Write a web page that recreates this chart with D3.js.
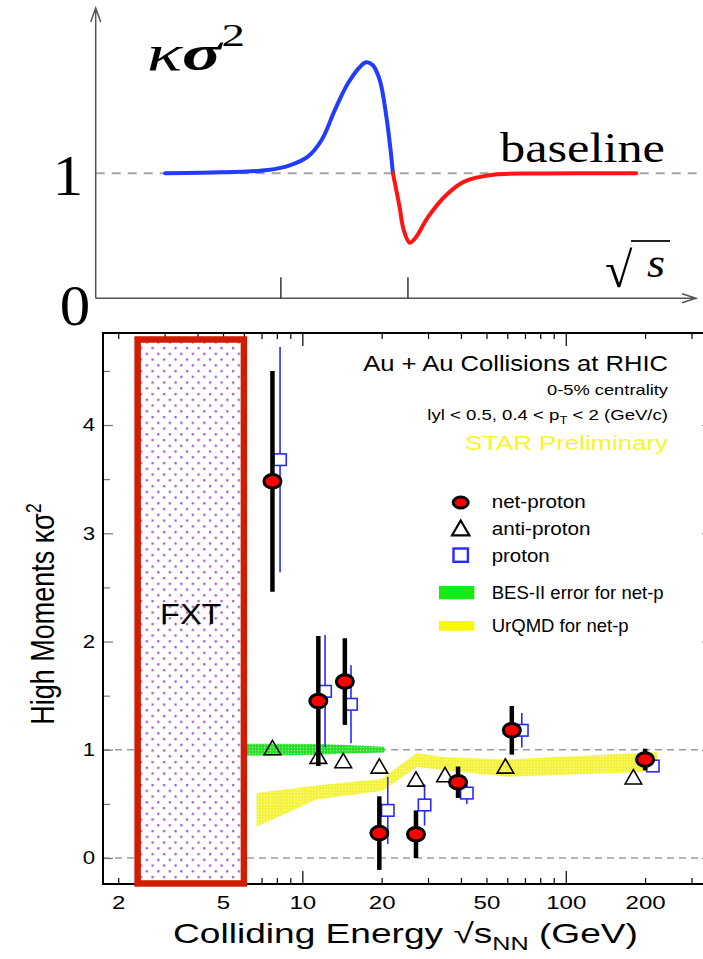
<!DOCTYPE html>
<html><head><meta charset="utf-8">
<script src="https://cdn.jsdelivr.net/npm/d3@7"></script>
<style>body{margin:0;background:#fff}svg{display:block}</style>
</head><body><svg id="c" width="703" height="959"></svg>
<script>
// ---------- data ----------
const energies = [7.7, 11.5, 14.5, 19.6, 27, 39, 62.4, 200];
const netProton = [3.48, 1.45, 1.63, 0.23, 0.22, 0.70, 1.18, 0.91];
const netProtonErr = [1.02, 0.60, 0.40, 0.34, 0.22, 0.145, 0.225, 0.10];
const protonEnergy = [8.23, 12.2, 15.3, 21.1, 29.1, 42.1, 68.1, 214];
const proton = [3.68, 1.54, 1.42, 0.44, 0.49, 0.60, 1.18, 0.85];
const protonErr = [1.04, 0.52, 0.36, 0.31, 0.19, 0.10, 0.16, 0.03];
const antiProtonEnergy = [7.7, 11.5, 14.3, 19.6, 27, 34.8, 59.0, 180.6];
const antiProton = [1.02, 0.94, 0.90, 0.85, 0.73, 0.77, 0.85, 0.75];
const besEnergy = [5.6, 7.7, 11.5, 14.5, 20.5];
const besLow = [0.945, 0.947, 0.955, 0.965, 0.975];
const besHigh = [1.056, 1.055, 1.053, 1.045, 1.028];
const urqmdEnergy = [6.7, 11.3, 20.0, 27.2, 34.8, 59.8, 222];
const urqmdLow = [0.29, 0.54, 0.62, 0.84, 0.81, 0.75, 0.80];
const urqmdHigh = [0.60, 0.67, 0.73, 0.97, 0.93, 0.91, 0.98];
const fxtEnergy = [2.37, 6.0];
const fxtKappa = [-0.235, 4.79];
const xTickValues = [2,3,4,5,6,7,8,9,10,20,30,40,50,60,70,80,90,100,200,300];
const xTickLabels = [2,5,10,20,50,100,200];
const xDecades = [10,100];
const yTickValues = [0,0.5,1,1.5,2,2.5,3,3.5,4,4.5];
const yTickLabels = [0,1,2,3,4];
// schematic sketch (arbitrary units)
const blueU = [11.6,17.4,24.1,28.7,32.5,35.4,37.7,39.9,42.1,44.4,45.1,46.2,47.4,48.5,49.2,49.6];
const blueV = [1.0,1.005,1.012,1.026,1.066,1.133,1.266,1.506,1.72,1.866,1.888,1.866,1.746,1.453,1.186,1.0];
const redU = [49.6,50.7,51.4,52.4,53.3,55.5,58.5,61.5,66.0,73.4,90.2];
const redV = [1.0,0.733,0.546,0.445,0.48,0.653,0.826,0.933,0.986,0.999,1.0];
const sketchTicks = [30.9, 52.1];

// ---------- setup ----------
const svg = d3.select('#c');
const SANS = "'Liberation Sans', Arial, Helvetica, sans-serif";
const SERIF = "'Liberation Serif', 'Times New Roman', serif";

function fit(t, px, py, width, sxx) {
  let s = sxx || 1;
  if (width) s = width / t.node().getComputedTextLength();
  t.attr('transform', `translate(${px},${py}) scale(${s},1)`);
  return t;
}

const defs = svg.append('defs');
const dots = defs.append('pattern').attr('id','dots').attr('patternUnits','userSpaceOnUse')
  .attr('width',11.5).attr('height',11.5);
dots.append('rect').attr('width',11.5).attr('height',11.5).attr('fill','#fff');
dots.append('rect').attr('x',2).attr('y',2).attr('width',2.2).attr('height',2.2).attr('fill','#9a50cc');
dots.append('rect').attr('x',7.75).attr('y',7.75).attr('width',2.2).attr('height',2.2).attr('fill','#9a50cc');

const yel = defs.append('pattern').attr('id','yel').attr('patternUnits','userSpaceOnUse').attr('width',3).attr('height',3);
yel.append('rect').attr('width',3).attr('height',3).attr('fill','#f7f53a');
yel.append('rect').attr('x',0).attr('y',0).attr('width',1).attr('height',1).attr('fill','#fbfbb0');
yel.append('rect').attr('x',1.5).attr('y',1.5).attr('width',1).attr('height',1).attr('fill','#e8e860');
const grn = defs.append('pattern').attr('id','grn').attr('patternUnits','userSpaceOnUse').attr('width',3).attr('height',3);
grn.append('rect').attr('width',3).attr('height',3).attr('fill','#2ee62e');
grn.append('rect').attr('x',0).attr('y',0).attr('width',1).attr('height',1).attr('fill','#a8f5a8');
grn.append('rect').attr('x',1.5).attr('y',1.5).attr('width',1).attr('height',1).attr('fill','#20c020');

// ---------- top sketch ----------
const sx = d3.scaleLinear().domain([0,100]).range([95.7,695]);
const sy = d3.scaleLinear().domain([0,1]).range([298.3,173.3]);
const topG = svg.append('g');
topG.append('line').attr('x1',sx(0)).attr('x2',703).attr('y1',sy(1)).attr('y2',sy(1))
  .attr('stroke','#a5a5a5').attr('stroke-width',2).attr('stroke-dasharray','9,7');
topG.append('path').attr('d',`M${sx(0)},${sy(0)}V8 M${sx(0)-5},22 L${sx(0)},8 L${sx(0)+5},22`)
  .attr('fill','none').attr('stroke','#555').attr('stroke-width',1.5);
topG.append('path').attr('d',`M${sx(0)},${sy(0)}H696 M682,${sy(0)-4.5} L696,${sy(0)} L682,${sy(0)+4.5}`)
  .attr('fill','none').attr('stroke','#555').attr('stroke-width',1.5);
topG.selectAll('.stk').data(sketchTicks).enter().append('line')
  .attr('x1',d=>sx(d)).attr('x2',d=>sx(d)).attr('y1',sy(0)).attr('y2',sy(0)-21)
  .attr('stroke','#333').attr('stroke-width',1.5);
const sline = d3.line().x(d=>sx(d[0])).y(d=>sy(d[1])).curve(d3.curveCatmullRom.alpha(0.5));
topG.append('path').attr('d',sline(blueU.map((u,i)=>[u,blueV[i]])))
  .attr('fill','none').attr('stroke','#1f3cff').attr('stroke-width',4).attr('stroke-linecap','round');
topG.append('path').attr('d',sline(redU.map((u,i)=>[u,redV[i]])))
  .attr('fill','none').attr('stroke','#ff1414').attr('stroke-width',4).attr('stroke-linecap','round');
fit(topG.append('text').attr('font-family',SERIF).attr('font-size',58).attr('text-anchor','middle').text('1'),68,195,null,1.05);
fit(topG.append('text').attr('font-family',SERIF).attr('font-size',58).attr('text-anchor','middle').text('0'),75,325,null,1.05);
fit(topG.append('text').attr('font-family',SERIF).attr('font-size',42).text('baseline'),500,162,165);
{
  const t = topG.append('text').attr('font-family',SERIF).attr('font-size',50);
  t.append('tspan').attr('font-style','italic').text('κ');
  t.append('tspan').attr('font-style','italic').attr('font-weight','bold').text('σ');
  t.append('tspan').attr('font-size',32).attr('dy',-24).text('2');
  fit(t,147,70,98);
}
{
  const t = topG.append('text').attr('font-family',SERIF).attr('font-size',50).text('√');
  fit(t,605,287,null,1.0);
  topG.append('line').attr('x1',631).attr('x2',670).attr('y1',241).attr('y2',241).attr('stroke','#222').attr('stroke-width',2);
  const s = topG.append('text').attr('font-family',SERIF).attr('font-style','italic').attr('font-size',42).text('s');
  fit(s,647,277,null,1.1);
}

// ---------- bottom chart ----------
const L = 103, R = 712, T = 333, B = 884;
const x = d3.scaleLog().domain([1.751, 359]).range([L, R]);
const y = d3.scaleLinear().domain([-0.24, 4.85]).range([B, T]);
const g = svg.append('g');

g.selectAll('.ref').data([0,1]).enter().append('line')
  .attr('x1',L).attr('x2',R).attr('y1',d=>y(d)).attr('y2',d=>y(d))
  .attr('stroke','#9c9c9c').attr('stroke-width',1.4).attr('stroke-dasharray','7,5');

const area = d3.area().x(d=>x(d.e)).y0(d=>y(d.lo)).y1(d=>y(d.hi));
g.append('path').attr('d',area(urqmdEnergy.map((e,i)=>({e,lo:urqmdLow[i],hi:urqmdHigh[i]}))))
  .attr('fill','url(#yel)');
g.append('path').attr('d',area(besEnergy.map((e,i)=>({e,lo:besLow[i],hi:besHigh[i]}))))
  .attr('fill','url(#grn)');

function styleAxis(sel){ sel.select('.domain').remove(); sel.selectAll('line').attr('stroke','#000').attr('stroke-width',1.2); }
const xb = g.append('g').attr('transform',`translate(0,${B})`)
  .call(d3.axisBottom(x).tickValues(xTickValues).tickSizeInner(-6).tickSizeOuter(0).tickPadding(12)
    .tickFormat(d=>xTickLabels.includes(d)?String(d):''));
styleAxis(xb);
xb.selectAll('.tick line').attr('y2',d=>xDecades.includes(d)?-13:-6);
xb.selectAll('text').attr('font-family',SANS).attr('font-size',18.5).attr('fill','#000').attr('transform','scale(1.3,1)');
const xt = g.append('g').attr('transform',`translate(0,${T})`)
  .call(d3.axisTop(x).tickValues(xTickValues).tickSizeInner(-6).tickSizeOuter(0).tickFormat(''));
styleAxis(xt);
xt.selectAll('.tick line').attr('y2',d=>xDecades.includes(d)?13:6);
const yl = g.append('g').attr('transform',`translate(${L},0)`)
  .call(d3.axisLeft(y).tickValues(yTickValues).tickSizeInner(-10).tickSizeOuter(0).tickPadding(6.7)
    .tickFormat(d=>yTickLabels.includes(d)?String(d):''));
styleAxis(yl);
yl.selectAll('.tick line').attr('x2',d=>Number.isInteger(d)?10:7).attr('stroke','#777');
yl.selectAll('text').attr('font-family',SANS).attr('font-size',18.5).attr('fill','#000').attr('transform','scale(1.2,1)');
const yr = g.append('g').attr('transform',`translate(${R},0)`)
  .call(d3.axisRight(y).tickValues(yTickValues).tickSizeInner(-10).tickSizeOuter(0).tickFormat(''));
styleAxis(yr);
yr.selectAll('.tick line').attr('x2',d=>Number.isInteger(d)?-10:-7).attr('stroke','#777');

g.append('rect').attr('x',L).attr('y',T).attr('width',R-L).attr('height',B-T)
  .attr('fill','none').attr('stroke','#000').attr('stroke-width',2);

g.append('rect').attr('x',x(fxtEnergy[0])).attr('y',y(fxtKappa[1]))
  .attr('width',x(fxtEnergy[1])-x(fxtEnergy[0])).attr('height',y(fxtKappa[0])-y(fxtKappa[1]))
  .attr('fill','url(#dots)').attr('stroke','#d01c00').attr('stroke-width',6.5);
fit(g.append('text').attr('font-family',SANS).attr('font-size',29).attr('text-anchor','middle').text('FXT'),
  (x(fxtEnergy[0])+x(fxtEnergy[1]))/2, 624, null, 1.12);

const pd = proton.map((v,i)=>({e:protonEnergy[i],v,err:protonErr[i]}));
g.selectAll('.pbar').data(pd).enter().append('line')
  .attr('x1',d=>x(d.e)).attr('x2',d=>x(d.e)).attr('y1',d=>y(d.v-d.err)).attr('y2',d=>y(d.v+d.err))
  .attr('stroke','#2a2aff').attr('stroke-width',1.6);
g.selectAll('.psq').data(pd).enter().append('rect')
  .attr('x',d=>x(d.e)-6.2).attr('y',d=>y(d.v)-5.8).attr('width',12.4).attr('height',11.6)
  .attr('fill','#fff').attr('stroke','#2a2aff').attr('stroke-width',1.6);

const tri = 'M0,-7.2L8.3,7.1L-8.3,7.1Z';
g.selectAll('.ap').data(antiProton.map((v,i)=>({e:antiProtonEnergy[i],v}))).enter().append('path')
  .attr('d',tri).attr('transform',d=>`translate(${x(d.e)},${y(d.v)})`)
  .attr('fill','none').attr('stroke','#000').attr('stroke-width',1.6);

const nd = netProton.map((v,i)=>({e:energies[i],v,err:netProtonErr[i]}));
g.selectAll('.nbar').data(nd).enter().append('line')
  .attr('x1',d=>x(d.e)).attr('x2',d=>x(d.e)).attr('y1',d=>y(d.v-d.err)).attr('y2',d=>y(d.v+d.err))
  .attr('stroke','#000').attr('stroke-width',4.5);
g.selectAll('.nc').data(nd).enter().append('ellipse')
  .attr('cx',d=>x(d.e)).attr('cy',d=>y(d.v)).attr('rx',8.5).attr('ry',6.8)
  .attr('fill','#ff0000').attr('stroke','#000').attr('stroke-width',3);

fit(g.append('text').attr('font-family',SANS).attr('font-size',22).attr('text-anchor','end').text('Au + Au Collisions at RHIC'),668,370.7,305);
fit(g.append('text').attr('font-family',SANS).attr('font-size',14.5).attr('text-anchor','end').text('0-5% centrality'),668,395,121);
{
  const t = g.append('text').attr('font-family',SANS).attr('font-size',15).attr('text-anchor','end');
  t.append('tspan').text('lyl < 0.5, 0.4 < p');
  t.append('tspan').attr('font-size',10.5).attr('dy',4).text('T');
  t.append('tspan').attr('dy',-4).text(' < 2 (GeV/c)');
  fit(t,668,420,241);
}
fit(g.append('text').attr('font-family',SANS).attr('font-size',19.5).attr('text-anchor','end').attr('fill','#f6f52a').text('STAR Preliminary'),668,450,203);

const lg = g.append('g');
lg.append('ellipse').attr('cx',460.7).attr('cy',502.5).attr('rx',7.5).attr('ry',5.5)
  .attr('fill','#ff0000').attr('stroke','#000').attr('stroke-width',3);
lg.append('path').attr('d','M0,-7.5L8.6,7.3L-8.6,7.3Z').attr('transform','translate(460.7,528)')
  .attr('fill','none').attr('stroke','#000').attr('stroke-width',2.2);
lg.append('rect').attr('x',453.5).attr('y',548.5).attr('width',14.4).attr('height',13.3)
  .attr('fill','#fff').attr('stroke','#2a2aff').attr('stroke-width',2.4);
lg.append('rect').attr('x',439).attr('y',586).attr('width',35.3).attr('height',13.3).attr('fill','#14ec14');
lg.append('rect').attr('x',439).attr('y',621).attr('width',35.3).attr('height',9.7).attr('fill','#f8f800');
const legTexts = [['net-proton',507.7,94],['anti-proton',535,99],['proton',562,58],['BES-II error for net-p',599.3,172],['UrQMD for net-p',631.7,137]];
legTexts.forEach(([s,yy,w])=>fit(lg.append('text').attr('font-family',SANS).attr('font-size',17.5).text(s),491.7,yy,w));

{
  const t = svg.append('text').attr('font-family',SANS).attr('font-size',27).attr('text-anchor','middle');
  t.append('tspan').text('High Moments κσ');
  t.append('tspan').attr('font-size',18).attr('dy',-11).text('2');
  t.attr('transform','translate(54,614) scale(1.2,1) rotate(-90)');
}
{
  const t = svg.append('text').attr('font-family',SANS).attr('font-size',28);
  t.append('tspan').text('Colliding Energy √s');
  t.append('tspan').attr('font-size',19).attr('dy',7).text('NN');
  t.append('tspan').attr('dy',-7).text(' (GeV)');
  fit(t,173,943,465);
}
</script></body></html>
